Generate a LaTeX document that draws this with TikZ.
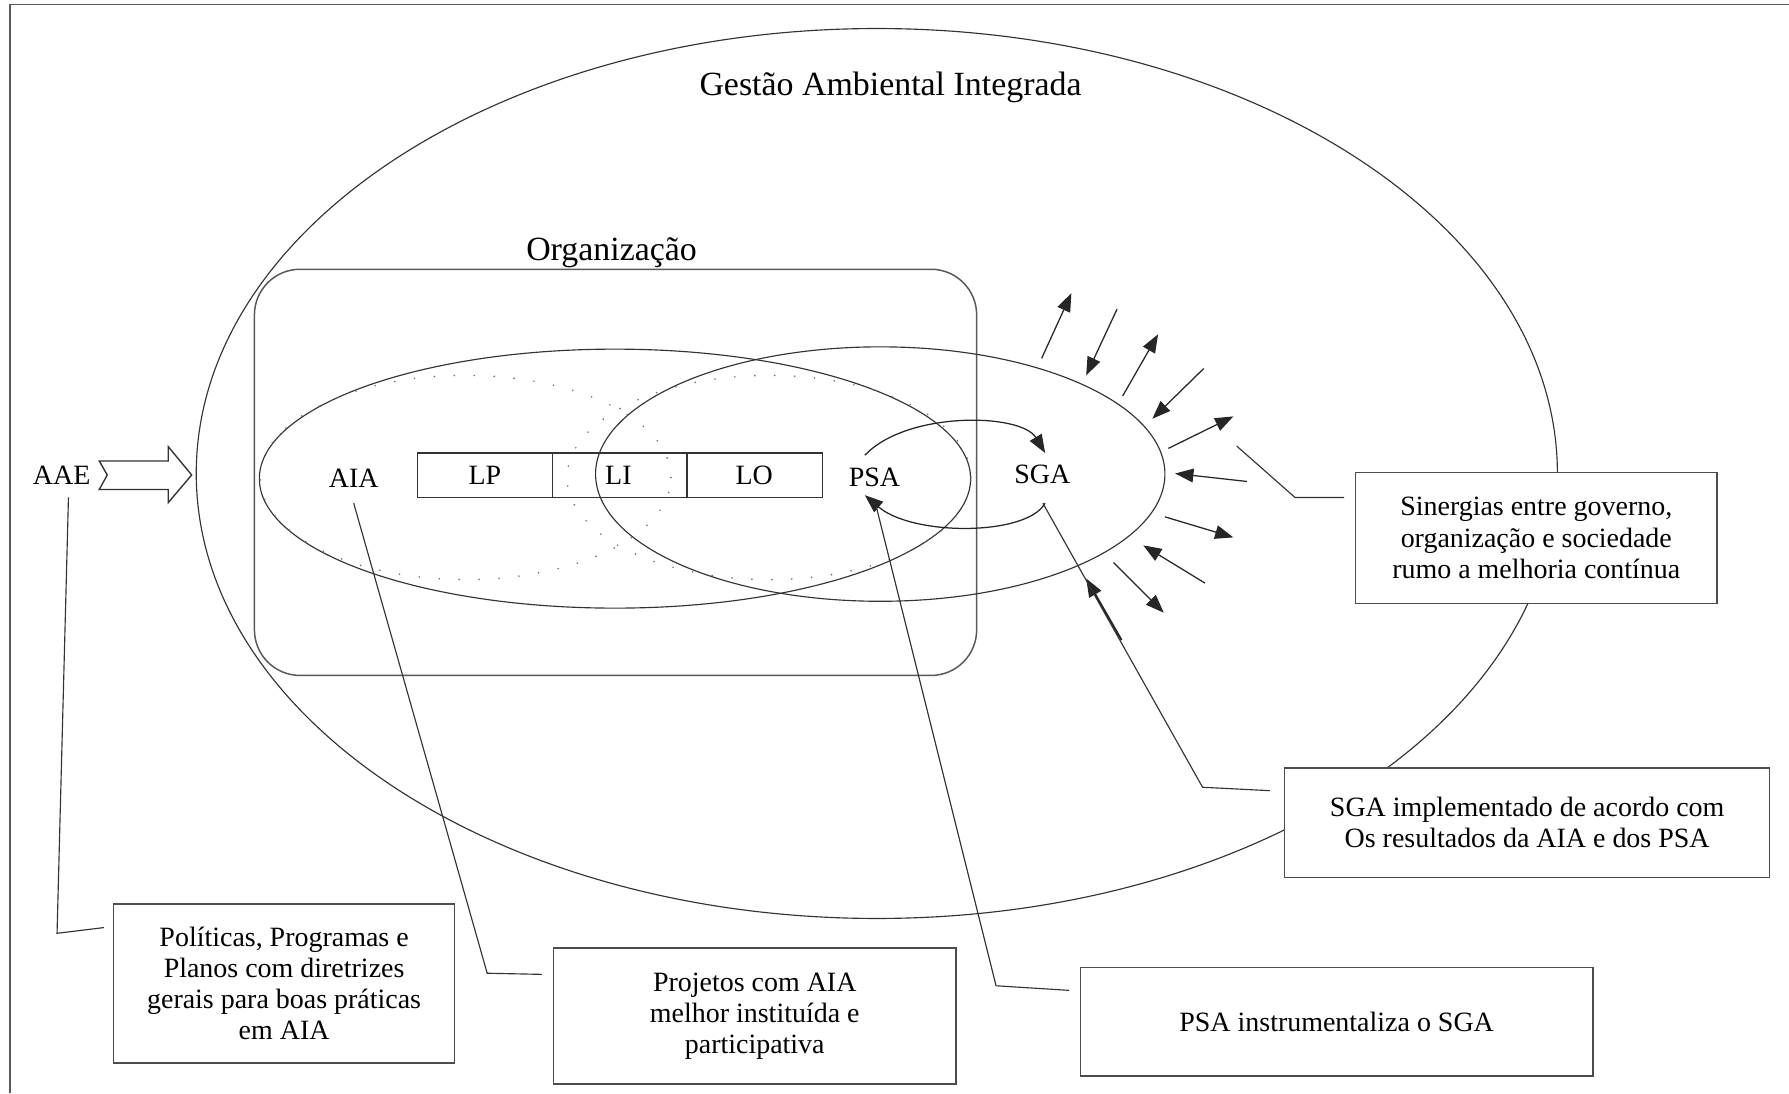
\documentclass[tikz,border=0pt]{standalone}
\usepackage{fontspec}
\setmainfont{Liberation Serif}
\usetikzlibrary{arrows.meta}
\newcommand{\diagbody}{\fontsize{24.5}{27.4}\selectfont}
\newcommand{\diagtitle}{\fontsize{29.7}{33}\selectfont}

\begin{document}
\begin{tikzpicture}[x=1pt,y=-1pt,
  thin line/.style={draw=black!80, line width=1pt},
  frame line/.style={draw=black!65, line width=1.5pt},
  infobox/.style={draw=black!70, line width=1.3pt, fill=white, align=center,
                  inner sep=0pt, font=\diagbody},
  lbl/.style={anchor=base, inner sep=0pt, font=\diagbody},
  ttl/.style={anchor=base, inner sep=0pt, font=\diagtitle},
  tip/.style={-{Triangle[length=16pt,width=12pt]}, draw=black!85, line width=1.1pt},
  dotline/.style={draw=black!55, line width=1.6pt, line cap=round,
                  dash pattern=on 0pt off 17.5pt},
]
\useasboundingbox (0,0) rectangle (1568,958);
\fill[white] (0,0) rectangle (1568,958);

% page frame (top and left edges)
\draw[frame line] (9,958) -- (9,4) -- (1568,4);

% integrated environmental management
\draw[thin line] (768.5,415) ellipse [x radius=596.5pt, y radius=390pt];
\node[ttl] (gai) at (780.5,83.5) {Gestão Ambiental Integrada};

% organisation
\draw[frame line, line width=1.3pt, rounded corners=40pt] (223,236) rectangle (856,592);
\node[ttl] (org) at (536,228) {Organização};

% AIA and SGA fields
\draw[thin line] (539,419.5) ellipse [x radius=311.7pt, y radius=113.5pt];
\draw[thin line] (771.5,415.5) ellipse [x radius=249.5pt, y radius=111.5pt];
\draw[dotline] (408,418.5) ellipse [x radius=180pt, y radius=89.5pt];
\draw[dotline] (674,418.5) ellipse [x radius=177pt, y radius=89.5pt];

% licence stages
\draw[thin line, line width=1.2pt] (366,397) rectangle (721,436);
\draw[thin line, line width=1.2pt] (484,397) -- (484,436);
\draw[thin line, line width=1.2pt] (602,397) -- (602,436);
\node[lbl] (lp) at (425,424.5) {LP};
\node[lbl] (li) at (542,424.5) {LI};
\node[lbl] (lo) at (661,424.5) {LO};

\node[lbl] (aia) at (310,427) {AIA};
\node[lbl] (psa) at (766.5,426) {PSA};
\node[lbl] (sga) at (913.5,423.5) {SGA};
\node[lbl] (aae) at (54,425) {AAE};

% AAE input arrow
\draw[thin line, line width=1.2pt, fill=white]
  (87,404) -- (147.5,404) -- (147.5,391.5) -- (168,416.3) -- (147.5,440.5)
  -- (147.5,429) -- (87,429) -- (94,416.3) -- cycle;

% PSA / SGA cycle
\coordinate (cycA) at (758,399);
\coordinate (cycB) at (916,397);
\coordinate (cycC) at (916,441);
\coordinate (cycD) at (758,434);
\draw[tip] (cycA) .. controls (795,360) and (895,362) .. (cycB);
\draw[tip] (cycC) .. controls (900,470) and (800,470) .. (cycD);

% exchanges across the SGA boundary
\foreach \xa/\ya/\xb/\yb in {913/314/939/257, 979/271/952/329, 984/347/1015/293,
    1055/323/1010/367, 1024/393/1081/365, 1093/422/1030/415, 1021/453/1081/471,
    1056/511/1002/478, 976/493/1020/537}
  \draw[tip] (\xa,\ya) -- (\xb,\yb);
\draw[tip, line width=1.7pt] (983,561) -- (952,507);

% explanatory boxes
\node[infobox, minimum width=299pt, minimum height=139pt] (pol) at (249,862)
  {Políticas, Programas e\\Planos com diretrizes\\gerais para boas práticas\\em AIA};
\node[infobox, minimum width=353pt, minimum height=119pt] (proj) at (661.5,890.5)
  {Projetos com AIA\\melhor instituída e\\participativa};
\node[infobox, minimum width=449pt, minimum height=95pt] (psabox) at (1171.5,895.5)
  {PSA instrumentaliza o SGA};
\node[infobox, minimum width=425pt, minimum height=96pt] (sgabox) at (1338.5,721)
  {SGA implementado de acordo com\\Os resultados da AIA e dos PSA};
\node[infobox, minimum width=317pt, minimum height=115pt] (sinbox) at (1346.5,471.5)
  {Sinergias entre governo,\\organização e sociedade\\rumo a melhoria contínua};

% leader lines
\coordinate (aaeA) at (60,436);
\coordinate (aaeB) at (50,818);
\coordinate (aaeC) at (91,813);
\draw[thin line] (aaeA) -- (aaeB) -- (aaeC);

\coordinate (aiaA) at (310,441);
\coordinate (aiaB) at (427,853);
\coordinate (aiaC) at (475,854);
\draw[thin line] (aiaA) -- (aiaB) -- (aiaC);

\coordinate (psaA) at (768,444);
\coordinate (psaB) at (873,864);
\coordinate (psaC) at (937,868);
\draw[thin line] (psaA) -- (psaB) -- (psaC);

\coordinate (sgaA) at (914,441);
\coordinate (sgaB) at (1054,690);
\coordinate (sgaC) at (1113,693);
\draw[thin line] (sgaA) -- (sgaB) -- (sgaC);

\coordinate (sinA) at (1084,391);
\coordinate (sinB) at (1135,436);
\coordinate (sinC) at (1178,436);
\draw[thin line] (sinA) -- (sinB) -- (sinC);
\end{tikzpicture}
\end{document}
